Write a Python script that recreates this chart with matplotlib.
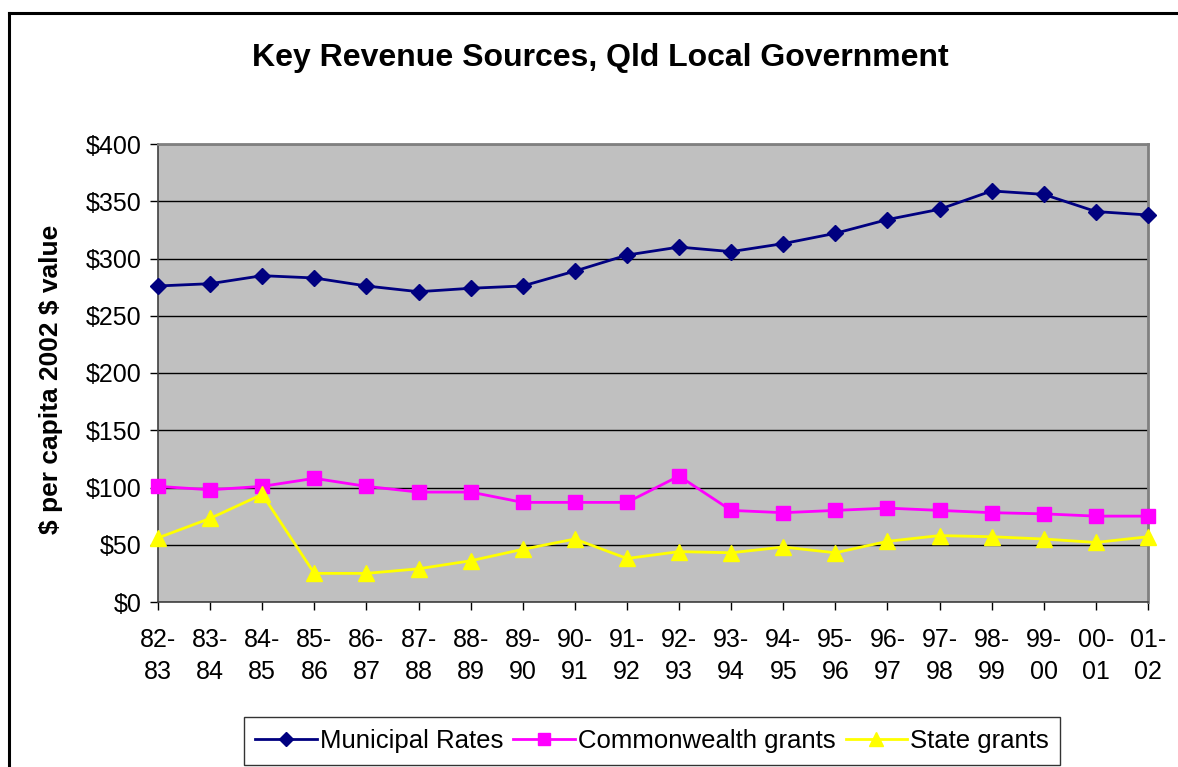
import matplotlib
matplotlib.use("Agg")
import matplotlib.pyplot as plt
from matplotlib.lines import Line2D

plt.rcParams['font.family'] = ['Liberation Sans', 'DejaVu Sans']
plt.rcParams['text.parse_math'] = False

categories = ["82-\n83", "83-\n84", "84-\n85", "85-\n86", "86-\n87", "87-\n88", "88-\n89",
              "89-\n90", "90-\n91", "91-\n92", "92-\n93", "93-\n94", "94-\n95", "95-\n96",
              "96-\n97", "97-\n98", "98-\n99", "99-\n00", "00-\n01", "01-\n02"]
municipal_rates = [276, 278, 285, 283, 276, 271, 274, 276, 289, 303,
                   310, 306, 313, 322, 334, 343, 359, 356, 341, 338]
commonwealth_grants = [101, 98, 101, 108, 101, 96, 96, 87, 87, 87,
                       110, 80, 78, 80, 82, 80, 78, 77, 75, 75]
state_grants = [56, 73, 94, 25, 25, 29, 36, 46, 55, 38,
                44, 43, 48, 43, 53, 58, 57, 55, 52, 57]
y_ticks = [0, 50, 100, 150, 200, 250, 300, 350, 400]
y_tick_labels = ["$0", "$50", "$100", "$150", "$200", "$250", "$300", "$350", "$400"]

W, H = 1178, 767
fig = plt.figure(figsize=(W / 100, H / 100), dpi=100)
fig.patch.set_facecolor('white')

# outer chart frame (left and top visible)
fig.add_artist(Line2D([9 / W, 9 / W], [0, 1 - 13 / H], transform=fig.transFigure,
                      color='black', lw=2.2))
fig.add_artist(Line2D([9 / W, 1], [1 - 13 / H, 1 - 13 / H], transform=fig.transFigure,
                      color='black', lw=2.2))

left, right, top, bottom = 158, 1148, 144, 602
ax = fig.add_axes([left / W, 1 - bottom / H, (right - left) / W, (bottom - top) / H])
ax.set_facecolor('#C0C0C0')

x = list(range(len(categories)))
ax.plot(x, municipal_rates, color='#000080', lw=2, marker='D', markersize=8,
        label='Municipal Rates', zorder=5, clip_on=False)
ax.plot(x, commonwealth_grants, color='#FF00FF', lw=2, marker='s', markersize=10,
        label='Commonwealth grants', zorder=5, clip_on=False)
ax.plot(x, state_grants, color='#FFFF00', lw=2, marker='^', markersize=11,
        label='State grants', zorder=5, clip_on=False)

ax.set_xlim(0, len(categories) - 1)
ax.set_ylim(0, 400)
ax.set_yticks(y_ticks)
ax.set_yticklabels(y_tick_labels, fontsize=18)
ax.set_xticks(x)
ax.set_xticklabels(categories, fontsize=18, linespacing=1.42)
ax.yaxis.grid(True, color='black', lw=1)
ax.set_axisbelow(True)
ax.tick_params(axis='both', direction='out', length=6, width=1, color='black', pad=6)
ax.tick_params(axis='x', pad=13)

for s in ['top', 'right']:
    ax.spines[s].set_color('#808080')
    ax.spines[s].set_linewidth(2)
for s in ['left', 'bottom']:
    ax.spines[s].set_color('#404040')
    ax.spines[s].set_linewidth(1.2)

ax.set_ylabel("$ per capita 2002 $ value", fontsize=19, fontweight='bold')
ax.yaxis.set_label_coords(-0.096, 0.485)
fig.text(600 / W, 1 - 58 / H, "Key Revenue Sources, Qld Local Government",
         fontsize=23, fontweight='bold', ha='center', va='center')

leg = fig.legend(loc='center', bbox_to_anchor=(652 / W, 1 - 741 / H), ncol=3,
                 fontsize=18.5, frameon=True, fancybox=False, edgecolor='black',
                 handlelength=2.4, handletextpad=0.1, columnspacing=0.4,
                 borderpad=0.45, markerscale=0.9)
leg.get_frame().set_linewidth(1)

fig.savefig('out.png', dpi=100, facecolor='white')
